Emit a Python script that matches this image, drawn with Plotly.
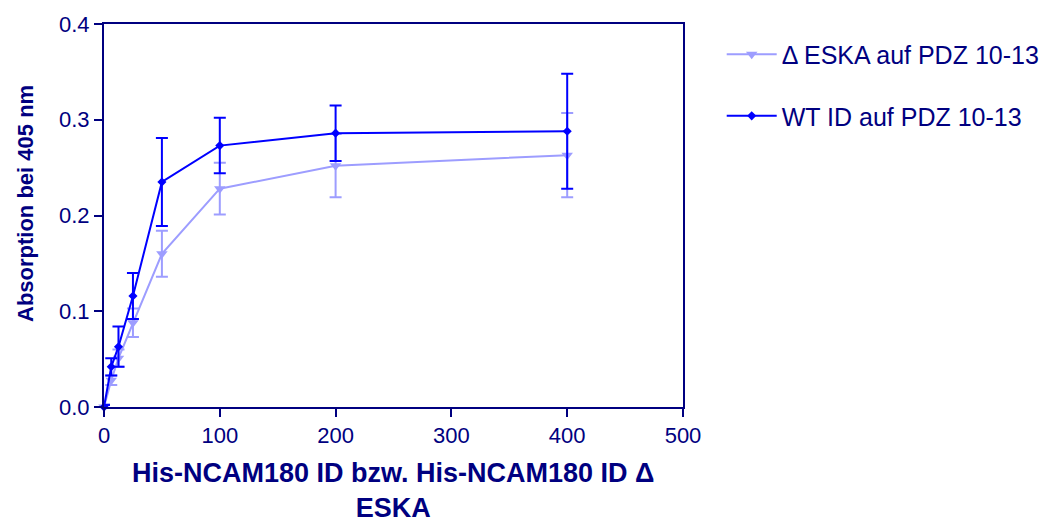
import plotly.graph_objects as go

# Concentration of the His-tagged NCAM180 intracellular domain
conc = [0, 6.25, 12.5, 25, 50, 100, 200, 400]

# Delta ESKA mutant on PDZ 10-13
eska_mean = [0.0, 0.028, 0.051, 0.088, 0.160, 0.228, 0.252, 0.263]
eska_err = [0.003, 0.005, 0.009, 0.015, 0.024, 0.027, 0.033, 0.044]

# Wild-type ID on PDZ 10-13
wt_mean = [0.0, 0.042, 0.063, 0.116, 0.235, 0.273, 0.286, 0.288]
wt_err = [0.002, 0.009, 0.021, 0.024, 0.046, 0.029, 0.029, 0.060]

x_title = "His-NCAM180 ID bzw. His-NCAM180 ID \u0394<br>ESKA"
y_title = "Absorption bei 405 nm"

navy = "#000080"
font_family = "Arial, Liberation Sans, sans-serif"

fig = go.Figure()

fig.add_trace(go.Scatter(
    x=conc, y=eska_mean, mode="lines+markers",
    name="\u0394 ESKA auf PDZ 10-13",
    line=dict(color="#9d9dff", width=2),
    marker=dict(symbol="triangle-down", size=10, color="#9d9dff"),
    error_y=dict(type="data", array=eska_err, visible=True,
                 color="#9d9dff", thickness=2, width=6),
    cliponaxis=False,
    legendgroup="a",
))

fig.add_trace(go.Scatter(
    x=conc, y=wt_mean, mode="lines+markers",
    name="WT ID auf PDZ 10-13",
    line=dict(color="#0000ff", width=2),
    marker=dict(symbol="diamond", size=7, color="#0000ff"),
    error_y=dict(type="data", array=wt_err, visible=True,
                 color="#0000ff", thickness=2, width=6),
    cliponaxis=False,
    legendgroup="b",
))

axis_common = dict(
    showline=True, linecolor=navy, linewidth=2, mirror=True,
    ticks="outside", ticklen=8, tickwidth=2, tickcolor=navy,
    showgrid=False, zeroline=False,
    tickfont=dict(family=font_family, size=22, color=navy),
)

fig.update_layout(
    width=1049, height=527,
    paper_bgcolor="white", plot_bgcolor="white",
    margin=dict(l=104, r=366, t=24, b=120),
    font=dict(family=font_family, color=navy),
    xaxis=dict(range=[0, 500], tickvals=[0, 100, 200, 300, 400, 500], **axis_common),
    yaxis=dict(range=[0, 0.4], tickvals=[0, 0.1, 0.2, 0.3, 0.4], tickformat=".1f",
               **axis_common),
    legend=dict(
        xref="container", yref="container",
        x=0.688, y=0.94, xanchor="left", yanchor="top",
        font=dict(family=font_family, size=25, color=navy),
        tracegroupgap=26, itemwidth=50,
        bgcolor="rgba(0,0,0,0)",
    ),
    annotations=[
        # horizontal axis title, two lines centred under the plot
        dict(text="<b>" + x_title + "</b>", xref="paper", yref="paper",
             x=0.5, y=0, xanchor="center", yanchor="top", yshift=-49,
             showarrow=False, align="center",
             font=dict(family=font_family, size=27, color=navy)),
        # vertical axis title
        dict(text="<b>" + y_title + "</b>", xref="paper", yref="paper",
             x=0, y=0.53, xanchor="center", yanchor="middle", xshift=-79,
             textangle=-90, showarrow=False,
             font=dict(family=font_family, size=22, color=navy)),
    ],
)

fig.write_html("out.html")
